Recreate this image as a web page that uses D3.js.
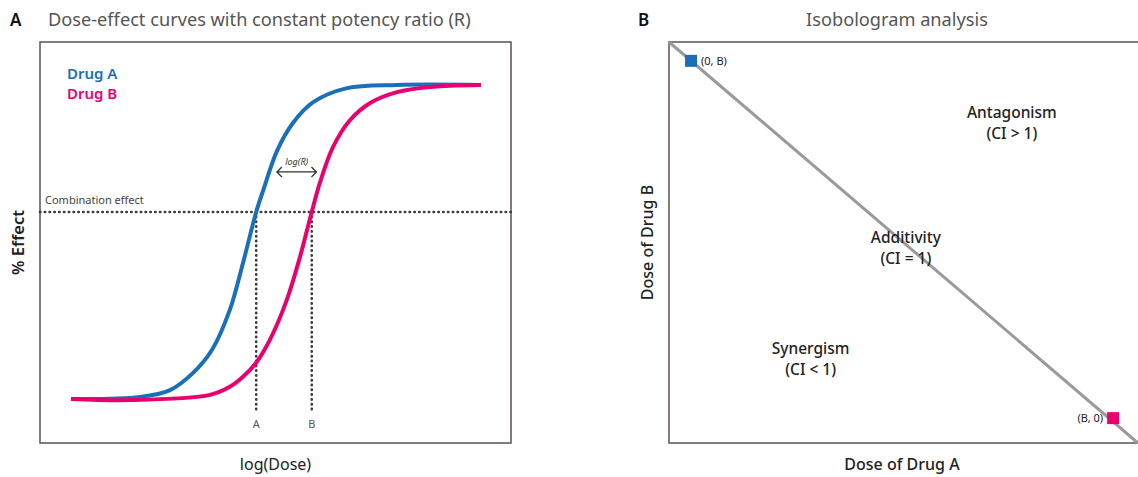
<!DOCTYPE html>
<html>
<head>
<meta charset="utf-8">
<script src="https://cdn.jsdelivr.net/npm/d3@7"></script>
<style>
  html, body { margin: 0; padding: 0; background: #fff; }
  svg { display: block; font-family: "Noto Sans", "Open Sans", sans-serif; }
</style>
</head>
<body>
<svg id="chart" width="1138" height="477"></svg>
<script>
// ---------- DATA ----------
// Panel A: log(dose) (arbitrary 0..10) vs % effect
const drugALogDose = [0.66, 2.12, 2.76, 3.25, 3.65, 4.03, 4.31, 4.59, 4.75, 5.03, 5.37, 5.80, 6.52, 7.58, 9.36];
const drugAEffect  = [11.0, 11.5, 13.2, 17.5, 23.2, 33.2, 44.9, 57.6, 63.4, 72.8, 79.8, 85.0, 88.5, 89.3, 89.3];
const drugBLogDose = [0.66, 1.91, 3.61, 4.03, 4.31, 4.59, 4.88, 5.24, 5.52, 5.67, 5.77, 5.94, 6.22, 6.58, 7.01, 7.58, 8.28, 9.36];
const drugBEffect  = [11.0, 10.7, 12.0, 14.0, 16.5, 20.0, 25.7, 35.7, 46.4, 53.1, 57.6, 64.8, 73.8, 80.5, 84.8, 87.5, 88.8, 89.3];
const combinationEffect = 57.6;
const doseAtCombination = { A: 4.59, B: 5.77 };
const dropLineBottom = 7.7;           // effect level where vertical guides stop
const logRArrow = [5.03, 5.87];       // x extent of the log(R) arrow
const logRArrowLevel = 67.6;
const seriesNames = ["Drug A", "Drug B"];

// Panel B: isobologram (dose of drug A vs dose of drug B, normalised)
const isoboleA = [0, 1];
const isoboleB = [1, 0];
const pointLabels = ["(0, B)", "(B, 0)"];
const pointA = [0.047, 0.953];
const pointB = [0.947, 0.062];
const regionLabels = [
  { name: "Antagonism", ci: "(CI > 1)", a: 0.731, b: 0.810 },
  { name: "Additivity", ci: "(CI = 1)", a: 0.505, b: 0.500 },
  { name: "Synergism",  ci: "(CI < 1)", a: 0.302, b: 0.222 }
];

// ---------- STYLE ----------
const BLUE = "#1b6fb9", PINK = "#e8006f", FRAME = "#5b5250", DOT = "#3a3a3a";

const svg = d3.select("#chart");

// ================= PANEL A =================
const ax = d3.scaleLinear().domain([0, 10]).range([40, 511]);
const ay = d3.scaleLinear().domain([0, 100]).range([443, 42]);

svg.append("text").attr("x", 10).attr("y", 26)
  .attr("font-size", 17).attr("font-weight", 600).attr("fill", "#111").text("A");
svg.append("text").attr("x", 48).attr("y", 26)
  .attr("font-size", 18.2).attr("fill", "#555").text("Dose-effect curves with constant potency ratio (R)");

const gA = svg.append("g");
gA.append("rect").attr("x", ax(0)).attr("y", ay(100))
  .attr("width", ax(10) - ax(0)).attr("height", ay(0) - ay(100))
  .attr("fill", "none").attr("stroke", FRAME).attr("stroke-width", 1.5);

// combination effect line
gA.append("line")
  .attr("x1", ax(0)).attr("x2", ax(10))
  .attr("y1", ay(combinationEffect)).attr("y2", ay(combinationEffect))
  .attr("stroke", DOT).attr("stroke-width", 2.6).attr("stroke-dasharray", "0.4,4.4")
  .attr("stroke-linecap", "round");
gA.append("text").attr("x", ax(0) + 5).attr("y", ay(combinationEffect) - 8)
  .attr("font-size", 11).attr("fill", "#444").text("Combination effect");

// vertical guides
[["A", doseAtCombination.A], ["B", doseAtCombination.B]].forEach(([lab, d]) => {
  gA.append("line")
    .attr("x1", ax(d)).attr("x2", ax(d))
    .attr("y1", ay(combinationEffect)).attr("y2", ay(dropLineBottom))
    .attr("stroke", DOT).attr("stroke-width", 2.6).attr("stroke-dasharray", "0.4,4.4")
    .attr("stroke-linecap", "round");
  gA.append("text").attr("x", ax(d)).attr("y", ay(dropLineBottom) + 16)
    .attr("text-anchor", "middle").attr("font-size", 11).attr("fill", "#555").text(lab);
});

// curves
const line = d3.line().x(d => ax(d[0])).y(d => ay(d[1])).curve(d3.curveCatmullRom.alpha(0.5));
const seriesA = drugALogDose.map((x, i) => [x, drugAEffect[i]]);
const seriesB = drugBLogDose.map((x, i) => [x, drugBEffect[i]]);
gA.append("path").datum(seriesA).attr("d", line)
  .attr("fill", "none").attr("stroke", BLUE).attr("stroke-width", 4);
gA.append("path").datum(seriesB).attr("d", line)
  .attr("fill", "none").attr("stroke", PINK).attr("stroke-width", 4);

// legend
seriesNames.forEach((n, i) => {
  gA.append("text").attr("x", 67).attr("y", 79 + i * 20)
    .attr("font-size", 15).attr("font-weight", 600)
    .attr("fill", i === 0 ? BLUE : PINK).text(n);
});

// log(R) arrow
const arrowY = ay(logRArrowLevel);
const x1 = ax(logRArrow[0]), x2 = ax(logRArrow[1]);
gA.append("path")
  .attr("d", `M${x1},${arrowY}H${x2}M${x1 + 5},${arrowY - 5}L${x1},${arrowY}L${x1 + 5},${arrowY + 5}M${x2 - 5},${arrowY - 5}L${x2},${arrowY}L${x2 - 5},${arrowY + 5}`)
  .attr("fill", "none").attr("stroke", "#333").attr("stroke-width", 1.3);
gA.append("text").attr("x", (x1 + x2) / 2).attr("y", arrowY - 7)
  .attr("text-anchor", "middle").attr("font-size", 9).attr("font-style", "italic")
  .attr("fill", "#333").text("log(R)");

// axis titles
svg.append("text").attr("x", (ax(0) + ax(10)) / 2).attr("y", 470)
  .attr("text-anchor", "middle").attr("font-size", 16).attr("fill", "#222").text("log(Dose)");
svg.append("text").attr("transform", `translate(24,${(ay(0) + ay(100)) / 2}) rotate(-90)`)
  .attr("text-anchor", "middle").attr("font-size", 16.5).attr("font-weight", 600)
  .attr("fill", "#222").text("% Effect");

// ================= PANEL B =================
const bx = d3.scaleLinear().domain([0, 1]).range([669, 1138]);
const by = d3.scaleLinear().domain([0, 1]).range([443, 42]);

svg.append("text").attr("x", 638).attr("y", 26)
  .attr("font-size", 17).attr("font-weight", 600).attr("fill", "#111").text("B");
svg.append("text").attr("x", 897).attr("y", 26).attr("text-anchor", "middle")
  .attr("font-size", 18.2).attr("fill", "#555").text("Isobologram analysis");

const gB = svg.append("g");
gB.append("rect").attr("x", bx(0)).attr("y", by(1))
  .attr("width", bx(1) - bx(0) + 20).attr("height", by(0) - by(1))
  .attr("fill", "none").attr("stroke", FRAME).attr("stroke-width", 1.5);

gB.append("line")
  .attr("x1", bx(isoboleA[0])).attr("y1", by(isoboleB[0]))
  .attr("x2", bx(isoboleA[1])).attr("y2", by(isoboleB[1]))
  .attr("stroke", "#9a9a9a").attr("stroke-width", 3);

const sq = 12;
gB.append("rect").attr("x", bx(pointA[0]) - sq / 2).attr("y", by(pointA[1]) - sq / 2)
  .attr("width", sq).attr("height", sq).attr("fill", BLUE);
gB.append("rect").attr("x", bx(pointB[0]) - sq / 2).attr("y", by(pointB[1]) - sq / 2)
  .attr("width", sq).attr("height", sq).attr("fill", PINK);
gB.append("text").attr("x", bx(pointA[0]) + 10).attr("y", by(pointA[1]) + 4)
  .attr("font-size", 11).attr("fill", "#222").text(pointLabels[0]);
gB.append("text").attr("x", bx(pointB[0]) - 10).attr("y", by(pointB[1]) + 4)
  .attr("text-anchor", "end").attr("font-size", 11).attr("fill", "#222").text(pointLabels[1]);

regionLabels.forEach(r => {
  const t = gB.append("text").attr("text-anchor", "middle").attr("font-size", 15.5)
    .attr("font-weight", 500).attr("fill", "#222");
  t.append("tspan").attr("x", bx(r.a)).attr("y", by(r.b)).text(r.name);
  t.append("tspan").attr("x", bx(r.a)).attr("y", by(r.b) + 21).text(r.ci);
});

svg.append("text").attr("x", 902).attr("y", 470).attr("text-anchor", "middle")
  .attr("font-size", 16).attr("font-weight", 500).attr("fill", "#222").text("Dose of Drug A");
svg.append("text").attr("transform", `translate(653,${(by(0) + by(1)) / 2}) rotate(-90)`)
  .attr("text-anchor", "middle").attr("font-size", 16).attr("font-weight", 500)
  .attr("fill", "#222").text("Dose of Drug B");
</script>
</body>
</html>
